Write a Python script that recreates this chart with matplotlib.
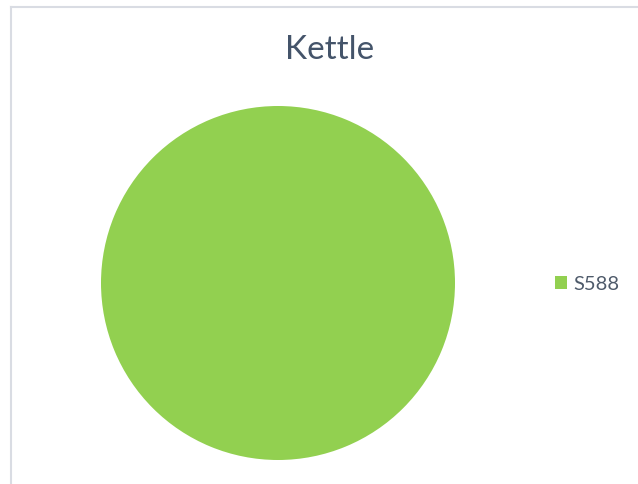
import matplotlib.pyplot as plt
from matplotlib.lines import Line2D

# Pie data
labels = ['S588']
values = [1]
colors = ['#92D050']

W, H = 638, 484
fig = plt.figure(figsize=(W / 100, H / 100), dpi=100)
fig.patch.set_facecolor('white')

# chart area border (top and left edges visible)
fig.add_artist(Line2D([10.5 / W, 10.5 / W], [0, 1 - 6.5 / H], transform=fig.transFigure,
                      color='#D9DCE3', lw=1.5))
fig.add_artist(Line2D([10.5 / W, 1], [1 - 6.5 / H, 1 - 6.5 / H], transform=fig.transFigure,
                      color='#D9DCE3', lw=1.5))

# pie placed in pixel box: centre (278, 283), radius 177
cx, cy, r = 278, 283, 177
ax = fig.add_axes([(cx - r) / W, (H - cy - r) / H, 2 * r / W, 2 * r / H])
wedges, _ = ax.pie(values, colors=colors, radius=1, startangle=90,
                   wedgeprops=dict(linewidth=0))
ax.set_xlim(-1, 1)
ax.set_ylim(-1, 1)
ax.set_aspect('equal')
ax.axis('off')

fig.text(330 / W, 1 - 50 / H, 'Kettle', ha='center', va='center',
         fontsize=24, color='#44546A', family='Lato')

fig.legend(wedges, labels, loc='center left', bbox_to_anchor=(555 / W, 1 - 284 / H),
           frameon=False, borderpad=0, borderaxespad=0,
           handlelength=0.62, handleheight=0.62, handletextpad=0.3,
           prop={'family': 'Lato', 'size': 14.5}, labelcolor='#4F5B6B')

plt.savefig('out.png', dpi=100)
